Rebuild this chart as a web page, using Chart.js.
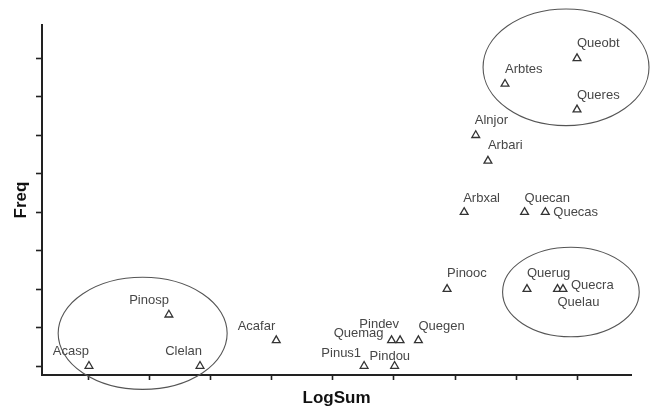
<!DOCTYPE html>
<html>
<head>
<meta charset="utf-8">
<script src="https://cdn.jsdelivr.net/npm/chart.js@4/dist/chart.umd.min.js"></script>
<style>
    body { margin: 0; background: #fff; }
    #contenedor { width: 650px; height: 409px; }
</style>
</head>
<body>
<div id="contenedor"><canvas id="graficoEspecies" width="650" height="409"></canvas></div>
<script>
/*******************************************************************************/
// Datos

const especies = ["Acasp", "Clelan", "Pinosp", "Acafar", "Quemag", "Pindev", "Quegen",
    "Pinus1", "Pindou", "Pinooc", "Querug", "Quelau", "Quecra", "Queobt", "Arbtes",
    "Queres", "Alnjor", "Arbari", "Arbxal", "Quecan", "Quecas"];
const logSum = [0, 1.82, 1.31, 3.07, 4.96, 5.10, 5.40, 4.51, 5.01, 5.87, 7.18, 7.68, 7.77,
    8.0, 6.82, 8.0, 6.34, 6.54, 6.15, 7.14, 7.48];
const freq = [0, 0, 4, 2, 2, 2, 2, 0, 0, 6, 6, 6, 6, 24, 22, 20, 18, 16, 12, 12, 12];

const xTicks = [0, 1, 2, 3, 4, 5, 6, 7, 8];
const yTicks = [0, 3, 6, 9, 12, 15, 18, 21, 24];

// grupos marcados con elipses (centro y radios en unidades de los ejes)
const elipseX = [0.88, 7.82, 7.90];
const elipseY = [2.55, 23.3, 5.77];
const elipseRx = [1.385, 1.36, 1.12];
const elipseRy = [4.37, 4.55, 3.49];

/*******************************************************************************/
// Posicion de las etiquetas (desplazamiento en px respecto al punto)

const etiquetaDx = [0, 2, 0, -1, -8, -1, 0, -3, -25, 0, 0, 0, 8, 0, 0, 0, -1, 0, -1, 0, 8];
const etiquetaDy = [-15, -15, -14, -14, -7, -16, -14, -13, -10, -16, -16, 13, -4, -15, -15, -14, -15, -15, -14, -14, 0];
const etiquetaLado = ["right", "right", "right", "right", "right", "right", "left", "right", "left",
    "left", "left", "left", "left", "left", "left", "left", "left", "left", "left", "left", "left"];

/*******************************************************************************/
// Plugins

const pluginEtiquetas = {
    id: "etiquetas",
    afterDatasetsDraw(chart) {
        const ctx = chart.ctx;
        const puntos = chart.getDatasetMeta(0).data;
        ctx.save();
        ctx.font = "13px 'Liberation Sans', Arial, sans-serif";
        ctx.fillStyle = "#474747";
        ctx.textBaseline = "middle";
        puntos.forEach((p, i) => {
            ctx.textAlign = etiquetaLado[i];
            ctx.fillText(especies[i], p.x + etiquetaDx[i], p.y + etiquetaDy[i]);
        });
        ctx.restore();
    }
};

const pluginElipses = {
    id: "elipses",
    afterDatasetsDraw(chart) {
        const ctx = chart.ctx;
        const x = chart.scales.x;
        const y = chart.scales.y;
        ctx.save();
        ctx.strokeStyle = "#555";
        ctx.lineWidth = 1.1;
        elipseX.forEach((cx, i) => {
            const px = x.getPixelForValue(cx);
            const py = y.getPixelForValue(elipseY[i]);
            const rx = Math.abs(x.getPixelForValue(cx + elipseRx[i]) - px);
            const ry = Math.abs(y.getPixelForValue(elipseY[i] + elipseRy[i]) - py);
            ctx.beginPath();
            ctx.ellipse(px, py, rx, ry, 0, 0, Math.PI * 2);
            ctx.stroke();
        });
        ctx.restore();
    }
};

/*******************************************************************************/
// Grafico

function crearGrafico() {
    const ctx = document.getElementById("graficoEspecies").getContext("2d");
    const puntos = logSum.map((v, i) => ({ x: v, y: freq[i] }));

    new Chart(ctx, {
        type: "scatter",
        data: {
            datasets: [{
                data: puntos,
                pointStyle: "triangle",
                pointRadius: 4.5,
                pointBorderWidth: 1.3,
                pointBorderColor: "#333",
                pointBackgroundColor: "#fff",
                clip: false
            }]
        },
        options: {
            responsive: false,
            animation: false,
            layout: { padding: { left: 7.6, top: 25, right: 19, bottom: 0.6 } },
            plugins: {
                legend: { display: false },
                tooltip: { enabled: false }
            },
            scales: {
                x: {
                    type: "linear",
                    min: -0.77,
                    max: 8.885,
                    afterBuildTicks: (scale) => { scale.ticks = xTicks.map((v) => ({ value: v })); },
                    ticks: { display: false },
                    grid: { drawOnChartArea: false, tickLength: 5, tickColor: "#222", tickWidth: 1.6 },
                    border: { color: "#222", width: 2 },
                    title: {
                        display: true,
                        text: "LogSum",
                        color: "#111",
                        font: { family: "'Liberation Sans', Arial, sans-serif", size: 17, weight: "bold" },
                        padding: { top: 8, bottom: 0 }
                    }
                },
                y: {
                    type: "linear",
                    min: -0.70,
                    max: 26.6,
                    afterBuildTicks: (scale) => { scale.ticks = yTicks.map((v) => ({ value: v })); },
                    ticks: { display: false },
                    grid: { drawOnChartArea: false, tickLength: 6, tickColor: "#222", tickWidth: 1.6 },
                    border: { color: "#222", width: 2 },
                    title: {
                        display: true,
                        text: "Freq",
                        color: "#111",
                        font: { family: "'Liberation Sans', Arial, sans-serif", size: 17, weight: "bold" },
                        padding: { top: 4, bottom: 4 }
                    }
                }
            }
        },
        plugins: [pluginElipses, pluginEtiquetas]
    });
}

crearGrafico();
</script>
</body>
</html>
